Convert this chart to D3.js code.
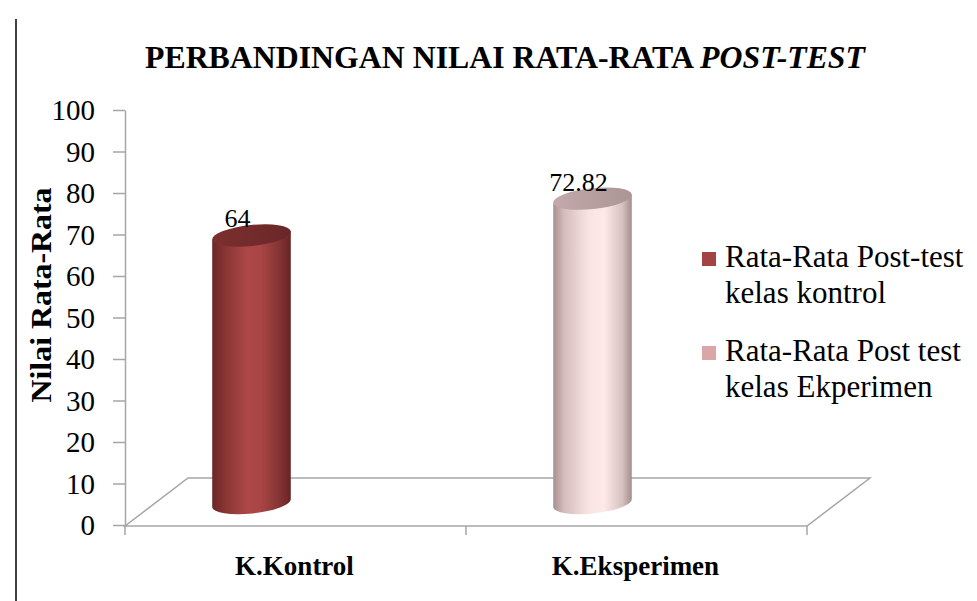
<!DOCTYPE html>
<html>
<head>
<meta charset="utf-8">
<script src="https://cdn.jsdelivr.net/npm/d3@7"></script>
<style>
  body { margin: 0; background: #fff; }
  text { font-family: "Liberation Serif", "Times New Roman", serif; }
</style>
</head>
<body>
<div id="chart"></div>
<script>
// data
var categories = ["K.Kontrol", "K.Eksperimen"];
var values = [64, 72.82];
var seriesNames = [
  ["Rata-Rata Post-test", "kelas kontrol"],
  ["Rata-Rata Post test", "kelas Ekperimen"]
];
var yTicks = [0, 10, 20, 30, 40, 50, 60, 70, 80, 90, 100];

var width = 977, height = 601;
var plot = { left: 125, right: 807, top: 110, bottom: 525 };
var depth = { dx: 63, dy: -48 };

var svg = d3.select("#chart").append("svg")
    .attr("width", width)
    .attr("height", height);

svg.append("rect").attr("width", width).attr("height", height).attr("fill", "#fff");

// left border line of the picture
svg.append("line")
    .attr("x1", 16).attr("x2", 16)
    .attr("y1", 19).attr("y2", height)
    .style("stroke", "#000")
    .style("stroke-width", 1.5);

var x = d3.scaleBand().domain(categories).range([plot.left, plot.right]);
var y = d3.scaleLinear().domain([0, 100]).range([plot.bottom, plot.top]);
// bars sit in the middle of the floor depth, a bit lower than the front plane
var yBar = d3.scaleLinear().domain([0, 100]).range([503, 85]);

// gradients
var defs = svg.append("defs");
function hGrad(id, stops) {
  var g = defs.append("linearGradient").attr("id", id)
      .attr("x1", "0%").attr("x2", "100%").attr("y1", "0%").attr("y2", "0%");
  stops.forEach(function(s) {
    g.append("stop").attr("offset", s[0]).attr("stop-color", s[1]);
  });
}
hGrad("bodyRed", [["0%", "#6c2626"], ["18%", "#8c3636"], ["45%", "#ad4747"], ["62%", "#a94545"], ["88%", "#803131"], ["100%", "#672424"]]);
hGrad("topRed", [["0%", "#7c2f2f"], ["100%", "#6a2727"]]);
hGrad("bodyPink", [["0%", "#a89090"], ["14%", "#d6bdbd"], ["45%", "#f9e3e3"], ["65%", "#fee9e9"], ["88%", "#d6c0c0"], ["100%", "#a58d8d"]]);
hGrad("topPink", [["0%", "#c3a9a9"], ["100%", "#ad9595"]]);

var bodyFills = ["url(#bodyRed)", "url(#bodyPink)"];
var topFills = ["url(#topRed)", "url(#topPink)"];
var legendColors = ["#a44343", "#d9a7a7"];

// floor
var floor = [
  [plot.left, plot.bottom + 1],
  [plot.right, plot.bottom + 1],
  [plot.right + depth.dx, plot.bottom + 1 + depth.dy],
  [plot.left + depth.dx, plot.bottom + 1 + depth.dy]
];
svg.append("path")
    .attr("d", d3.line()(floor) + "Z")
    .attr("fill", "#fff")
    .style("stroke", "#a6a6a6")
    .style("stroke-width", 1.5);

// y axis
var yAxis = svg.append("g")
    .attr("transform", "translate(" + plot.left + ",0)")
    .call(d3.axisLeft(y).tickValues(yTicks).tickSize(12).tickSizeOuter(0).tickPadding(18));
yAxis.select(".domain").style("stroke", "#a6a6a6").style("stroke-width", 1.5);
yAxis.selectAll(".tick line").style("stroke", "#a6a6a6").style("stroke-width", 1.5);
yAxis.selectAll(".tick text")
    .style("font-family", "'Liberation Serif', 'Times New Roman', serif")
    .style("font-size", "29px")
    .attr("dy", "0.33em")
    .attr("fill", "#000");

// category boundary ticks
var bounds = categories.map(function(c) { return x(c); }).concat([plot.right]);
svg.selectAll(".xtick").data(bounds).enter().append("line")
    .attr("x1", function(d) { return d; })
    .attr("x2", function(d) { return d; })
    .attr("y1", plot.bottom + 1)
    .attr("y2", plot.bottom + 10)
    .style("stroke", "#a6a6a6")
    .style("stroke-width", 1.5);

// category labels
svg.selectAll(".xlabel").data(categories).enter().append("text")
    .attr("x", function(d) { return x(d) + x.bandwidth() / 2 - 1; })
    .attr("y", 575)
    .attr("text-anchor", "middle")
    .style("font-size", "27px")
    .style("font-weight", "bold")
    .text(function(d) { return d; });

// cylinders
var rx = 39.5, ry = 10.5, tilt = -6;
var t = tilt * Math.PI / 180;
var ex = rx * Math.cos(t), ey = rx * Math.sin(t);

var bars = svg.selectAll(".bar").data(values).enter().append("g").attr("class", "bar");

bars.each(function(v, i) {
  var g = d3.select(this);
  var cx = x(categories[i]) + x.bandwidth() / 2 - 44;
  var yb = yBar(0), yt = yBar(v);
  var d = "M" + (cx - ex) + "," + (yt - ey) +
          "L" + (cx - ex) + "," + (yb - ey) +
          "A" + rx + "," + ry + " " + tilt + " 0 0 " + (cx + ex) + "," + (yb + ey) +
          "L" + (cx + ex) + "," + (yt + ey) + "Z";
  g.append("path").attr("d", d).attr("fill", bodyFills[i]);
  g.append("ellipse")
      .attr("cx", cx).attr("cy", yt)
      .attr("rx", rx).attr("ry", ry)
      .attr("transform", "rotate(" + tilt + "," + cx + "," + yt + ")")
      .attr("fill", topFills[i]);
  g.append("text")
      .attr("x", cx - 14)
      .attr("y", yt - 8)
      .attr("text-anchor", "middle")
      .style("font-size", "26px")
      .text(d3.format("")(v));
});

// title
var title = svg.append("text")
    .attr("x", 145)
    .attr("y", 68)
    .attr("textLength", 720)
    .attr("lengthAdjust", "spacingAndGlyphs")
    .style("font-size", "31px")
    .style("font-weight", "bold");
title.append("tspan").text("PERBANDINGAN NILAI RATA-RATA ");
title.append("tspan").style("font-style", "italic").text("POST-TEST");

// y axis title
svg.append("text")
    .attr("transform", "translate(51,295) rotate(-90)")
    .attr("text-anchor", "middle")
    .attr("textLength", 215)
    .attr("lengthAdjust", "spacingAndGlyphs")
    .style("font-size", "30px")
    .style("font-weight", "bold")
    .text("Nilai Rata-Rata");

// legend
var legend = svg.selectAll(".legend").data(seriesNames).enter().append("g")
    .attr("transform", function(d, i) { return "translate(702," + (252 + i * 94) + ")"; });
legend.append("rect")
    .attr("width", 14).attr("height", 14)
    .attr("fill", function(d, i) { return legendColors[i]; });
legend.append("text")
    .attr("x", 23)
    .attr("y", 15)
    .style("font-size", "31px")
    .selectAll("tspan").data(function(d) { return d; }).enter().append("tspan")
    .attr("x", 23)
    .attr("dy", function(d, j) { return j === 0 ? 0 : 36; })
    .text(function(d) { return d; });
</script>
</body>
</html>
